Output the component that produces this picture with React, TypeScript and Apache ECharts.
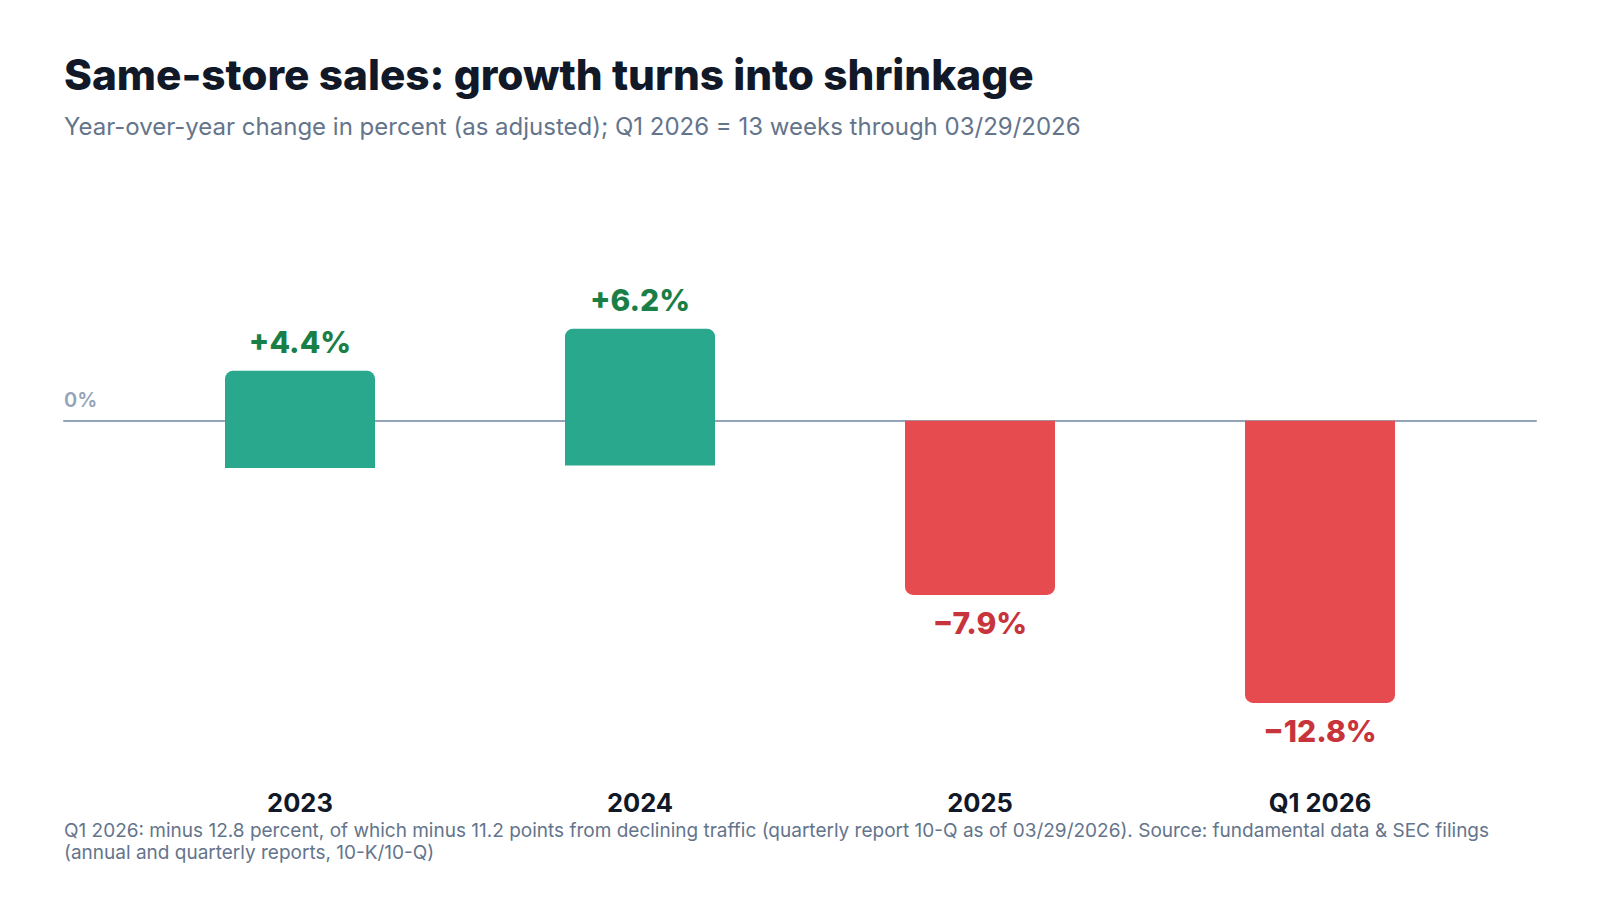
import React, { useEffect, useRef } from "react";
import * as echarts from "echarts";

const categories = ["2023", "2024", "2025", "Q1 2026"];
const values = [4.4, 6.2, -7.9, -12.8];
// the reference draws its positive bars sunk below the zero line by this many points
const positiveBarBaseShift = [-2.14, -2.03, 0, 0];
const yMin = -16;
const yMax = 10;

const titleText = "Same-store sales: growth turns into shrinkage";
const subtitleText =
  "Year-over-year change in percent (as adjusted); Q1 2026 = 13 weeks through 03/29/2026";
const footnoteLines = [
  "Q1 2026: minus 12.8 percent, of which minus 11.2 points from declining traffic (quarterly report 10-Q as of 03/29/2026). Source: fundamental data & SEC filings",
  "(annual and quarterly reports, 10-K/10-Q)",
];

const FONT = "Inter, 'Noto Sans', sans-serif";
const GREEN_BAR = "#2aa88e";
const RED_BAR = "#e54b4f";
const GREEN_TEXT = "#1a7f47";
const RED_TEXT = "#c8343c";

function fmt(v: number): string {
  return v > 0 ? "+" + v.toFixed(1) + "%" : "\u2212" + Math.abs(v).toFixed(1) + "%";
}

export default function App() {
  const ref = useRef<HTMLDivElement>(null);
  useEffect(() => {
    document.body.style.margin = "0";
    if (!ref.current) return;
    const chart = echarts.init(ref.current, undefined, { renderer: "svg" });
    const gridTop = 200.2;
    const gridBottom = 126.5;
    chart.setOption({
      animation: false,
      backgroundColor: "#ffffff",
      textStyle: { fontFamily: FONT },
      title: [
        {
          text: titleText,
          left: 64,
          top: 53.5,
          padding: 0,
          textStyle: { fontFamily: FONT, fontSize: 42.3, fontWeight: 800, color: "#111827" },
        },
        {
          text: subtitleText,
          left: 64,
          top: 114,
          padding: 0,
          textStyle: { fontFamily: FONT, fontSize: 24, fontWeight: 400, color: "#64748b" },
        },
        ...footnoteLines.map((line, i) => ({
          text: line,
          left: 64,
          top: 821 + i * 22,
          padding: 0,
          textStyle: {
            fontFamily: FONT,
            fontSize: 19,
            fontWeight: 400,
            color: "#64748b",
            lineHeight: 18,
          },
        })),
      ],
      grid: [
        { left: 130, right: 110, top: gridTop, bottom: gridBottom },
        { left: 64, right: 64, top: gridTop, bottom: gridBottom },
      ],
      xAxis: [
        {
          type: "category",
          gridIndex: 0,
          data: categories,
          axisLine: { show: false, onZero: false },
          axisTick: { show: false },
          axisLabel: {
            fontFamily: FONT,
            fontSize: 25.5,
            fontWeight: 700,
            color: "#111827",
            lineHeight: 18,
            margin: 19.5,
          },
        },
        {
          type: "value",
          gridIndex: 1,
          min: 0,
          max: 1,
          axisLine: { show: true, onZero: true, lineStyle: { color: "#94a3b8", width: 2 } },
          axisTick: { show: false },
          axisLabel: { show: false },
          splitLine: { show: false },
        },
      ],
      yAxis: [
        {
          type: "value",
          gridIndex: 0,
          min: yMin,
          max: yMax,
          show: false,
        },
        {
          type: "value",
          gridIndex: 1,
          min: yMin,
          max: yMax,
          interval: 2,
          axisLine: { show: false },
          axisTick: { show: false },
          splitLine: { show: false },
          axisLabel: {
            inside: true,
            margin: 0,
            verticalAlign: "bottom",
            padding: [0, 0, 11, 0],
            fontFamily: FONT,
            fontSize: 20,
            fontWeight: 600,
            color: "#94a3b8",
            formatter: (v: number) => (v === 0 ? "0%" : ""),
          },
        },
      ],
      series: [
        {
          type: "bar",
          xAxisIndex: 0,
          yAxisIndex: 0,
          stack: "shift",
          stackStrategy: "all",
          silent: true,
          barWidth: 150,
          itemStyle: { color: "transparent" },
          data: positiveBarBaseShift,
        },
        {
          type: "bar",
          xAxisIndex: 0,
          yAxisIndex: 0,
          stack: "shift",
          stackStrategy: "all",
          barWidth: 150,
          data: values.map((v) => ({
            value: v,
            itemStyle: {
              color: v >= 0 ? GREEN_BAR : RED_BAR,
              borderRadius: v >= 0 ? [8, 8, 0, 0] : [0, 0, 8, 8],
            },
            label: {
              show: true,
              position: v >= 0 ? "top" : "bottom",
              distance: 13.5,
              color: v >= 0 ? GREEN_TEXT : RED_TEXT,
              fontFamily: FONT,
              fontSize: 30,
              fontWeight: 800,
              formatter: () => fmt(v),
            },
          })),
        },
        {
          type: "line",
          xAxisIndex: 1,
          yAxisIndex: 1,
          data: [],
          silent: true,
        },
      ],
    });
    return () => chart.dispose();
  }, []);
  return <div ref={ref} style={{ width: 1600, height: 900 }} />;
}
